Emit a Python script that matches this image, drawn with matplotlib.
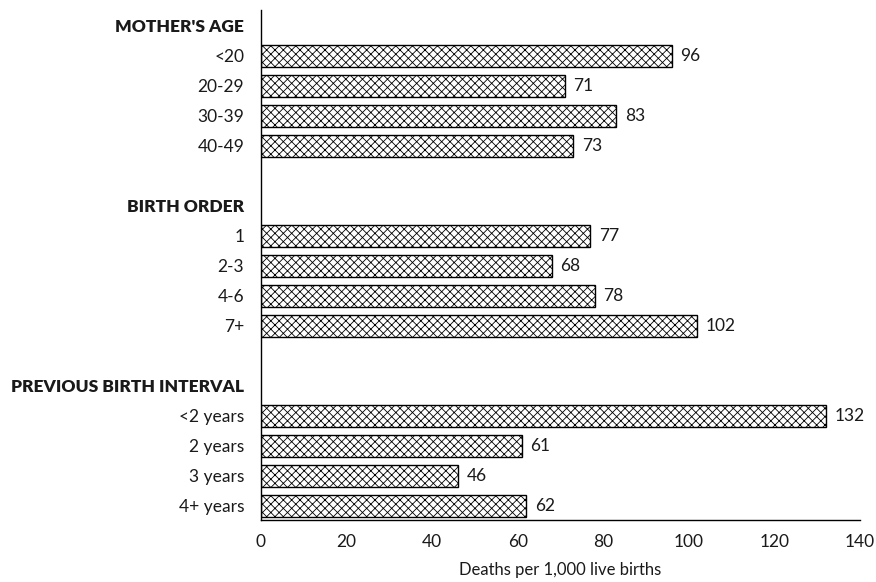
import matplotlib
matplotlib.use("Agg")
import matplotlib.pyplot as plt

plt.rcParams['font.family'] = ['Lato', 'DejaVu Sans']
plt.rcParams['hatch.linewidth'] = 0.6

groups = ["MOTHER'S AGE", "BIRTH ORDER", "PREVIOUS BIRTH INTERVAL"]
age_labels = ["<20", "20-29", "30-39", "40-49"]
age_values = [96, 71, 83, 73]
order_labels = ["1", "2-3", "4-6", "7+"]
order_values = [77, 68, 78, 102]
interval_labels = ["<2 years", "2 years", "3 years", "4+ years"]
interval_values = [132, 61, 46, 62]
xticks = [0, 20, 40, 60, 80, 100, 120, 140]
xlabel = "Deaths per 1,000 live births"

fig = plt.figure(figsize=(8.76, 5.82), dpi=100)
ax = fig.add_axes([261/876, 62/582, (860-261)/876, (572-62)/582])

labels = []
positions = []
bar_pos = []
bar_vals = []
headers = []
row = 0
for g, labs, vals in [(groups[0], age_labels, age_values),
                      (groups[1], order_labels, order_values),
                      (groups[2], interval_labels, interval_values)]:
    labels.append(g); positions.append(row); headers.append(row)
    row += 1
    for l, v in zip(labs, vals):
        labels.append(l); positions.append(row)
        bar_pos.append(row); bar_vals.append(v)
        row += 1
    row += 1

ax.barh(bar_pos, bar_vals, height=0.74, color='white', edgecolor='black',
        hatch='xxxx', linewidth=1.0)
for p, v in zip(bar_pos, bar_vals):
    ax.text(v + 2.0, p, str(v), va='center', ha='left', fontsize=12.5, color='#1a1a1a')

ax.set_yticks(positions)
ax.set_yticklabels(labels)
for t, p in zip(ax.get_yticklabels(), positions):
    if p in headers:
        t.set_fontweight('heavy')
        t.set_fontsize(12.5)
    else:
        t.set_fontsize(12.5)
ax.tick_params(axis='y', length=0, pad=12, colors='#1a1a1a')
ax.set_ylim(16.47, -0.53)
ax.set_xlim(0, 140)
ax.set_xticks(xticks)
ax.tick_params(axis='x', length=0, pad=10, labelsize=12.5, colors='#1a1a1a')
ax.set_xlabel(xlabel, fontsize=12, labelpad=9, color='#1a1a1a')
for s in ['top', 'right']:
    ax.spines[s].set_visible(False)
ax.spines['left'].set_linewidth(1.0)
ax.spines['bottom'].set_linewidth(1.0)

fig.savefig("out.png", dpi=100)
